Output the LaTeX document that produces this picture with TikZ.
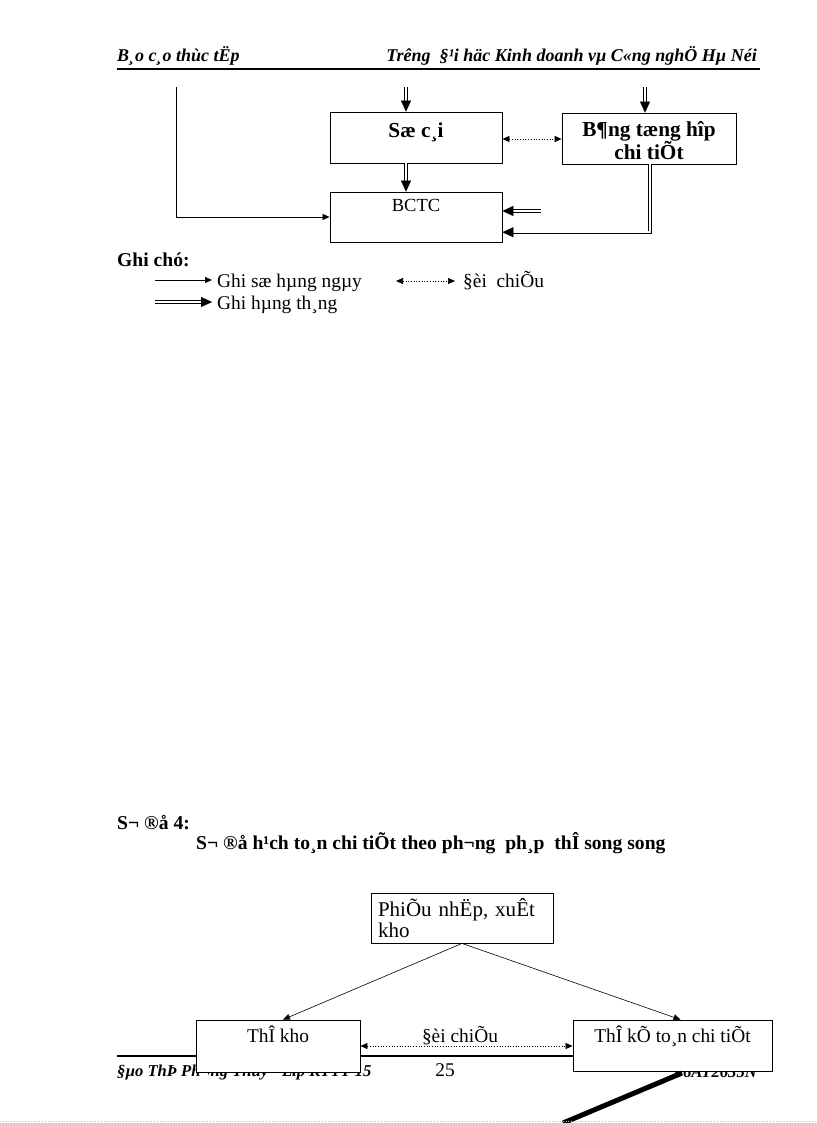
\documentclass[tikz,border=0pt]{standalone}
\usepackage{fontspec}
\setmainfont{Liberation Serif}
\usetikzlibrary{arrows.meta,calc}
\tikzset{
  box/.style={draw, line width=0.8pt, fill=white, inner sep=0pt},
  thin1/.style={line width=0.7pt, -{Triangle[length=7pt,width=6pt]}},
  dotarr/.style={line width=0.7pt, dotted, {Triangle[length=7pt,width=6pt]}-{Triangle[length=7pt,width=6pt]}},
  dbl/.style={draw=none,
    postaction={draw, double, double distance=1.6pt, line width=0.9pt, shorten >=8pt},
    postaction={draw=white, line width=0.1pt, -{Triangle[length=11pt,width=10pt,color=black]}}},
  hdr/.style={font=\fontsize{18}{21}\selectfont\bfseries\itshape, inner sep=0pt},
  ftr/.style={font=\fontsize{16.6}{20}\selectfont\bfseries\itshape, inner sep=0pt},
  bodyt/.style={font=\fontsize{19.4}{21}\selectfont, inner sep=0pt},
  boxt/.style={font=\fontsize{21}{21}\selectfont, inner sep=0pt},
  boldt/.style={font=\fontsize{19.6}{22}\selectfont\bfseries, inner sep=0pt},
  boldb/.style={font=\fontsize{21.3}{22}\selectfont\bfseries, inner sep=0pt},
}
\begin{document}
\begin{tikzpicture}[x=1pt,y=-1pt]
\useasboundingbox (0,0) rectangle (816,1123);
% header
\node[hdr, anchor=base west] (h1) at (117,62) {B¸o c¸o thùc tËp};
\node[hdr, anchor=base east] (h2) at (757,62) {Trêng \ §¹i häc Kinh doanh vµ C«ng nghÖ Hµ Néi};
\coordinate (hl1) at (117,69);
\coordinate (hl2) at (760,69);
\draw[line width=1.6pt] (hl1) -- (hl2);

% upper diagram
\node[box, minimum width=172pt, minimum height=51pt] (sc) at (416,137.5) {};
\node[boldb, anchor=base] (sct) at (416,138) {Sæ c¸i};
\node[box, minimum width=174pt, minimum height=51pt] (bt) at (649,138.5) {};
\node[boldb, align=center, anchor=base] (btt) at (649,160) {B¶ng tæng hîp\\chi tiÕt};
\node[box, minimum width=172pt, minimum height=50pt] (bc) at (416,217) {};
\node[font=\fontsize{18.5}{20}\selectfont, inner sep=0pt, anchor=base] (bct) at (416,212) {BCTC};

\coordinate (t1) at (406,87);
\coordinate (t2) at (645,87);
\draw[dbl] (t1) -- (t1 |- sc.north);
\draw[dbl] (t2) -- (t2 |- bt.north);
\draw[dbl] (sc.south -| t1) -- (bc.north -| t1);
\draw[dotarr] (sc.east |- 0,139) -- (bt.west |- 0,139);
\coordinate (lt) at (176,87);
\draw[thin1] (lt) |- (bc.west);
\coordinate (sh) at (541,211);
\draw[dbl] (sh) -- (bc.east |- sh);
\coordinate (bv) at (650,0);
\draw[dbl] (bv |- bt.south) |- ($(bc.south east)!0.2!(bc.north east)$);

% legend
\node[boldt, anchor=base west] (gc) at (117,266) {Ghi chó:};
\coordinate (la1) at (155,280);
\coordinate (la2) at (212,280);
\draw[thin1] (la1) -- (la2);
\node[bodyt, anchor=base west] (lt1) at (217,287) {Ghi sæ hµng ngµy};
\coordinate (lb1) at (396,281);
\coordinate (lb2) at (455,281);
\draw[dotarr] (lb1) -- (lb2);
\node[bodyt, anchor=base west] (lt2) at (463,287) {§èi \ chiÕu};
\coordinate (lc1) at (155,302);
\coordinate (lc2) at (212,302);
\draw[dbl] (lc1) -- (lc2);
\node[bodyt, anchor=base west] (lt3) at (217,309) {Ghi hµng th¸ng};

% lower diagram titles
\node[boldt, anchor=base west] (s4) at (117,829) {S¬ ®å 4:};
\node[boldt, anchor=base west] (s4t) at (196,849) {S¬ ®å h¹ch to¸n chi tiÕt theo ph¬ng \ ph¸p \ thÎ song song};

% footer (under the boxes)
\coordinate (fl1) at (117,1056);
\coordinate (fl2) at (760,1056);
\draw[line width=1.8pt] (fl1) -- (fl2);
\node[ftr, anchor=base west] (f1) at (117,1076) {§µo ThÞ Ph¬ng Thuý - Líp KTTT 15};
\node[bodyt, anchor=base] (f2) at (445,1076) {25};
\node[ftr, anchor=base east] (f3) at (757,1077) {06AT2635N};

% lower boxes
\node[box, minimum width=182pt, minimum height=50pt, boxt, text width=168pt, align=left] (pn) at (462,918) {PhiÕu nhËp, xuÊt\\kho};
\node[box, minimum width=164pt, minimum height=52pt] (tk) at (278,1046) {};
\node[bodyt, anchor=base] (tkt) at (278,1042) {ThÎ kho};
\node[box, minimum width=199pt, minimum height=51pt] (kt) at (672.5,1045.5) {};
\node[bodyt, anchor=base] (ktt) at (672.5,1042) {ThÎ kÕ to¸n chi tiÕt};

\draw[thin1, line width=0.6pt] (pn.south) -- ($(tk.north)+(5,0)$);
\draw[thin1, line width=0.6pt] (pn.south) -- ($(kt.north)+(8,0)$);
\draw[dotarr] (tk.east |- 0,1046) -- (kt.west |- 0,1046);
\node[bodyt, anchor=base] (dc) at (460,1042) {§èi chiÕu};

% thick diagonal stroke
\coordinate (d1) at (682,1073);
\coordinate (d2) at (563,1123);
\draw[line width=5pt] (d1) -- (d2);
% page edge
\coordinate (pe1) at (0,1121);
\coordinate (pe2) at (816,1121);
\draw[gray!50, dotted, line width=0.8pt] (pe1) -- (pe2);
\end{tikzpicture}
\end{document}
